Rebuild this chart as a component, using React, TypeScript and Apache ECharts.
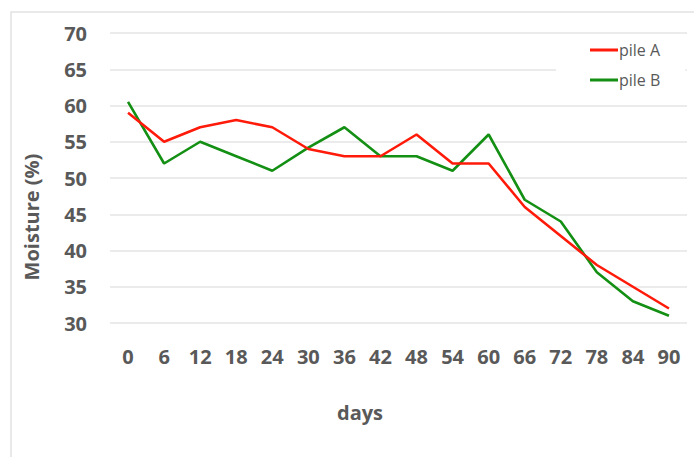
import React, { useEffect, useRef } from "react";
import * as echarts from "echarts";

const days = ["0", "6", "12", "18", "24", "30", "36", "42", "48", "54", "60", "66", "72", "78", "84", "90"];
const pileA = [59, 55, 57, 58, 57, 54, 53, 53, 56, 52, 52, 46, 42, 38, 35, 32];
const pileB = [60.5, 52, 55, 53, 51, 54.2, 57, 53, 53, 51, 56, 47, 44, 37, 33, 31];
const yTicks = { min: 30, max: 70, interval: 5 };

const FONT = "'Open Sans', 'Liberation Sans', sans-serif";
const LABEL = "#595959";

export default function App() {
  const ref = useRef<HTMLDivElement>(null);
  useEffect(() => {
    if (!ref.current) return;
    const chart = echarts.init(ref.current, null, { renderer: "svg" });
    chart.setOption({
      animation: false,
      backgroundColor: "#ffffff",
      grid: { left: 110, right: 7, top: 33, bottom: 134 },
      xAxis: {
        type: "category",
        data: days,
        boundaryGap: true,
        axisLine: { show: false },
        axisTick: { show: false },
        axisLabel: {
          color: LABEL,
          fontFamily: FONT,
          fontWeight: "bold",
          fontSize: 20,
          lineHeight: 20,
          margin: 23,
        },
      },
      yAxis: {
        type: "value",
        min: yTicks.min,
        max: yTicks.max,
        interval: yTicks.interval,
        axisLine: { show: false },
        axisTick: { show: false },
        axisLabel: {
          color: LABEL,
          fontFamily: FONT,
          fontWeight: "bold",
          fontSize: 20,
          margin: 23,
        },
        splitLine: { lineStyle: { color: "#e4e4e4", width: 1.5 } },
      },
      legend: {
        orient: "vertical",
        left: 556,
        top: 34,
        padding: [8, 25, 8, 34],
        backgroundColor: "#ffffff",
        itemWidth: 28,
        itemHeight: 3,
        itemGap: 14,
        icon: "rect",
        textStyle: { color: LABEL, fontFamily: FONT, fontSize: 16, lineHeight: 16, padding: [0, 0, 0, -4] },
        data: ["pile A", "pile B"],
      },
      series: [
        {
          name: "pile A",
          type: "line",
          data: pileA,
          symbol: "none",
          lineStyle: { color: "#ff1a0a", width: 2.6 },
          itemStyle: { color: "#ff1a0a" },
          z: 3,
        },
        {
          name: "pile B",
          type: "line",
          data: pileB,
          symbol: "none",
          lineStyle: { color: "#138f13", width: 2.6 },
          itemStyle: { color: "#138f13" },
          z: 2,
        },
      ],
      graphic: [
        {
          type: "rect",
          shape: { x: 11, y: 12, width: 700, height: 460 },
          style: { fill: "none", stroke: "#e2e2e2", lineWidth: 1.5 },
          silent: true,
          z: 0,
        },
        {
          type: "text",
          x: 31,
          y: 217,
          rotation: Math.PI / 2,
          style: {
            text: "Moisture (%)",
            font: `bold 20px ${FONT}`,
            fill: LABEL,
            align: "center",
            verticalAlign: "middle",
          },
        },
        {
          type: "text",
          x: 360,
          y: 412,
          style: {
            text: "days",
            font: `bold 20px ${FONT}`,
            fill: LABEL,
            align: "center",
            verticalAlign: "middle",
          },
        },
      ],
    });
    return () => chart.dispose();
  }, []);
  return (
    <div
      ref={ref}
      style={{ position: "absolute", left: 0, top: 0, width: 694, height: 457 }}
    />
  );
}
